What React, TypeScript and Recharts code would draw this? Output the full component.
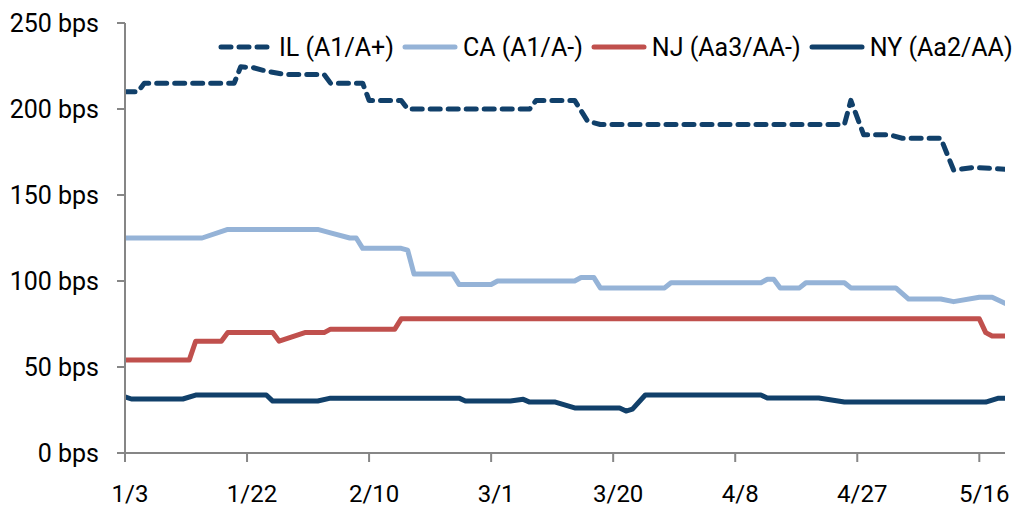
import React from 'react';
import { LineChart, Line, XAxis, YAxis, Legend } from 'recharts';

// x = days since 1/3
const tickDays = [0, 19, 38, 57, 76, 95, 114, 133];
const tickLabels = ['1/3', '1/22', '2/10', '3/1', '3/20', '4/8', '4/27', '5/16'];
const yTicks = [0, 50, 100, 150, 200, 250];

const ilDays = [0, 2, 3, 17, 18, 20, 22, 25, 31, 32, 37, 38, 43, 44, 63, 64, 70, 72, 74, 112, 113, 115, 119, 121, 127, 129, 132, 137];
const ilValues = [210, 210, 215, 215, 224.5, 224, 222, 220, 220, 215, 215, 205, 205, 200, 200, 205, 205, 193, 191, 191, 205, 185, 185, 183, 183, 164.5, 166, 165];

const caDays = [0, 12, 16, 30, 32, 35, 36, 37, 43, 44, 45, 51, 52, 57, 58, 70, 71, 73, 74, 84, 85, 99, 100, 101, 102, 105, 106, 112, 113, 120, 122, 127, 129, 133, 135, 137];
const caValues = [125, 125, 130, 130, 128, 125, 125, 119, 119, 118, 104, 104, 98, 98, 100, 100, 102, 102, 96, 96, 99, 99, 101, 101, 96, 96, 99, 99, 96, 96, 89.5, 89.5, 88, 90.5, 90.5, 87];

const njDays = [0, 10, 11, 15, 16, 23, 24, 28, 31, 32, 42, 43, 133, 134, 135, 137];
const njValues = [54, 54, 65, 65, 70, 70, 65, 70, 70, 72, 72, 78, 78, 70, 68, 68];

const nyDays = [0, 1, 9, 11, 22, 23, 30, 32, 52, 53, 60, 62, 63, 67, 70, 77, 78, 79, 81, 99, 100, 108, 112, 134, 136, 137];
const nyValues = [32.7, 31.4, 31.4, 33.7, 33.7, 30.2, 30.2, 31.9, 31.9, 30.2, 30.2, 31.2, 29.6, 29.6, 26.2, 26.2, 24.4, 25.5, 33.7, 33.7, 32, 32, 29.6, 29.6, 31.9, 31.9];

const seriesNames = ['IL (A1/A+)', 'CA (A1/A-)', 'NJ (Aa3/AA-)', 'NY (Aa2/AA)'];
const seriesColors = ['#11406A', '#95B3D7', '#C0504D', '#11406A'];

const zip = (days: number[], vals: number[]) => days.map((d, i) => ({ d, v: vals[i] }));
const ilData = zip(ilDays, ilValues);
const caData = zip(caDays, caValues);
const njData = zip(njDays, njValues);
const nyData = zip(nyDays, nyValues);

const FONT = 'Roboto, "Noto Sans", sans-serif';
const AXIS = '#868686';

const renderLegend = () => (
  <div style={{ display: 'flex', alignItems: 'center', height: 34, fontFamily: FONT, fontSize: 25, color: '#000', whiteSpace: 'nowrap' }}>
    {seriesNames.map((name, i) => (
      <div key={name} style={{ display: 'flex', alignItems: 'center', marginRight: 8 }}>
        <svg width={56} height={12} style={{ marginRight: 5 }}>
          <line
            x1={3}
            y1={6}
            x2={53}
            y2={6}
            stroke={seriesColors[i]}
            strokeWidth={5}
            strokeLinecap="round"
            strokeDasharray={i === 0 ? '10 8' : undefined}
          />
        </svg>
        <span>{name}</span>
      </div>
    ))}
  </div>
);

export default function App() {
  return (
    <div style={{ position: 'absolute', left: 0, top: 0, width: 1021, height: 509, background: '#fff' }}>
      <LineChart width={1021} height={509} margin={{ top: 23, right: 16, bottom: 0, left: 0 }}>
        <XAxis
          dataKey="d"
          type="number"
          domain={[0, 137]}
          ticks={tickDays}
          allowDataOverflow
          tickFormatter={(v: number) => tickLabels[tickDays.indexOf(v)] ?? ''}
          height={56}
          tickSize={9}
          tickMargin={23}
          axisLine={{ stroke: AXIS, strokeWidth: 2 }}
          tickLine={{ stroke: AXIS, strokeWidth: 2 }}
          tick={{ fill: '#000', fontSize: 24, fontFamily: FONT, dx: 5 }}
        />
        <YAxis
          type="number"
          domain={[0, 250]}
          ticks={yTicks}
          width={125}
          tickSize={8}
          tickMargin={18}
          tickFormatter={(v: number) => `${v} bps`}
          axisLine={{ stroke: AXIS, strokeWidth: 2 }}
          tickLine={{ stroke: AXIS, strokeWidth: 2 }}
          tick={{ fill: '#000', fontSize: 25, fontFamily: FONT }}
        />
        <Legend
          layout="horizontal"
          verticalAlign="middle"
          align="center"
          wrapperStyle={{ top: 30, left: 218, width: 'auto' }}
          content={renderLegend}
        />
        <Line data={caData} dataKey="v" name={seriesNames[1]} type="linear" stroke={seriesColors[1]} strokeWidth={5} dot={false} isAnimationActive={false} strokeLinejoin="round" strokeLinecap="round" />
        <Line data={njData} dataKey="v" name={seriesNames[2]} type="linear" stroke={seriesColors[2]} strokeWidth={5} dot={false} isAnimationActive={false} strokeLinejoin="round" strokeLinecap="round" />
        <Line data={nyData} dataKey="v" name={seriesNames[3]} type="linear" stroke={seriesColors[3]} strokeWidth={5} dot={false} isAnimationActive={false} strokeLinejoin="round" strokeLinecap="round" />
        <Line data={ilData} dataKey="v" name={seriesNames[0]} type="linear" stroke={seriesColors[0]} strokeWidth={5} strokeDasharray="10 8" strokeLinecap="round" strokeLinejoin="round" dot={false} isAnimationActive={false} />
      </LineChart>
    </div>
  );
}
